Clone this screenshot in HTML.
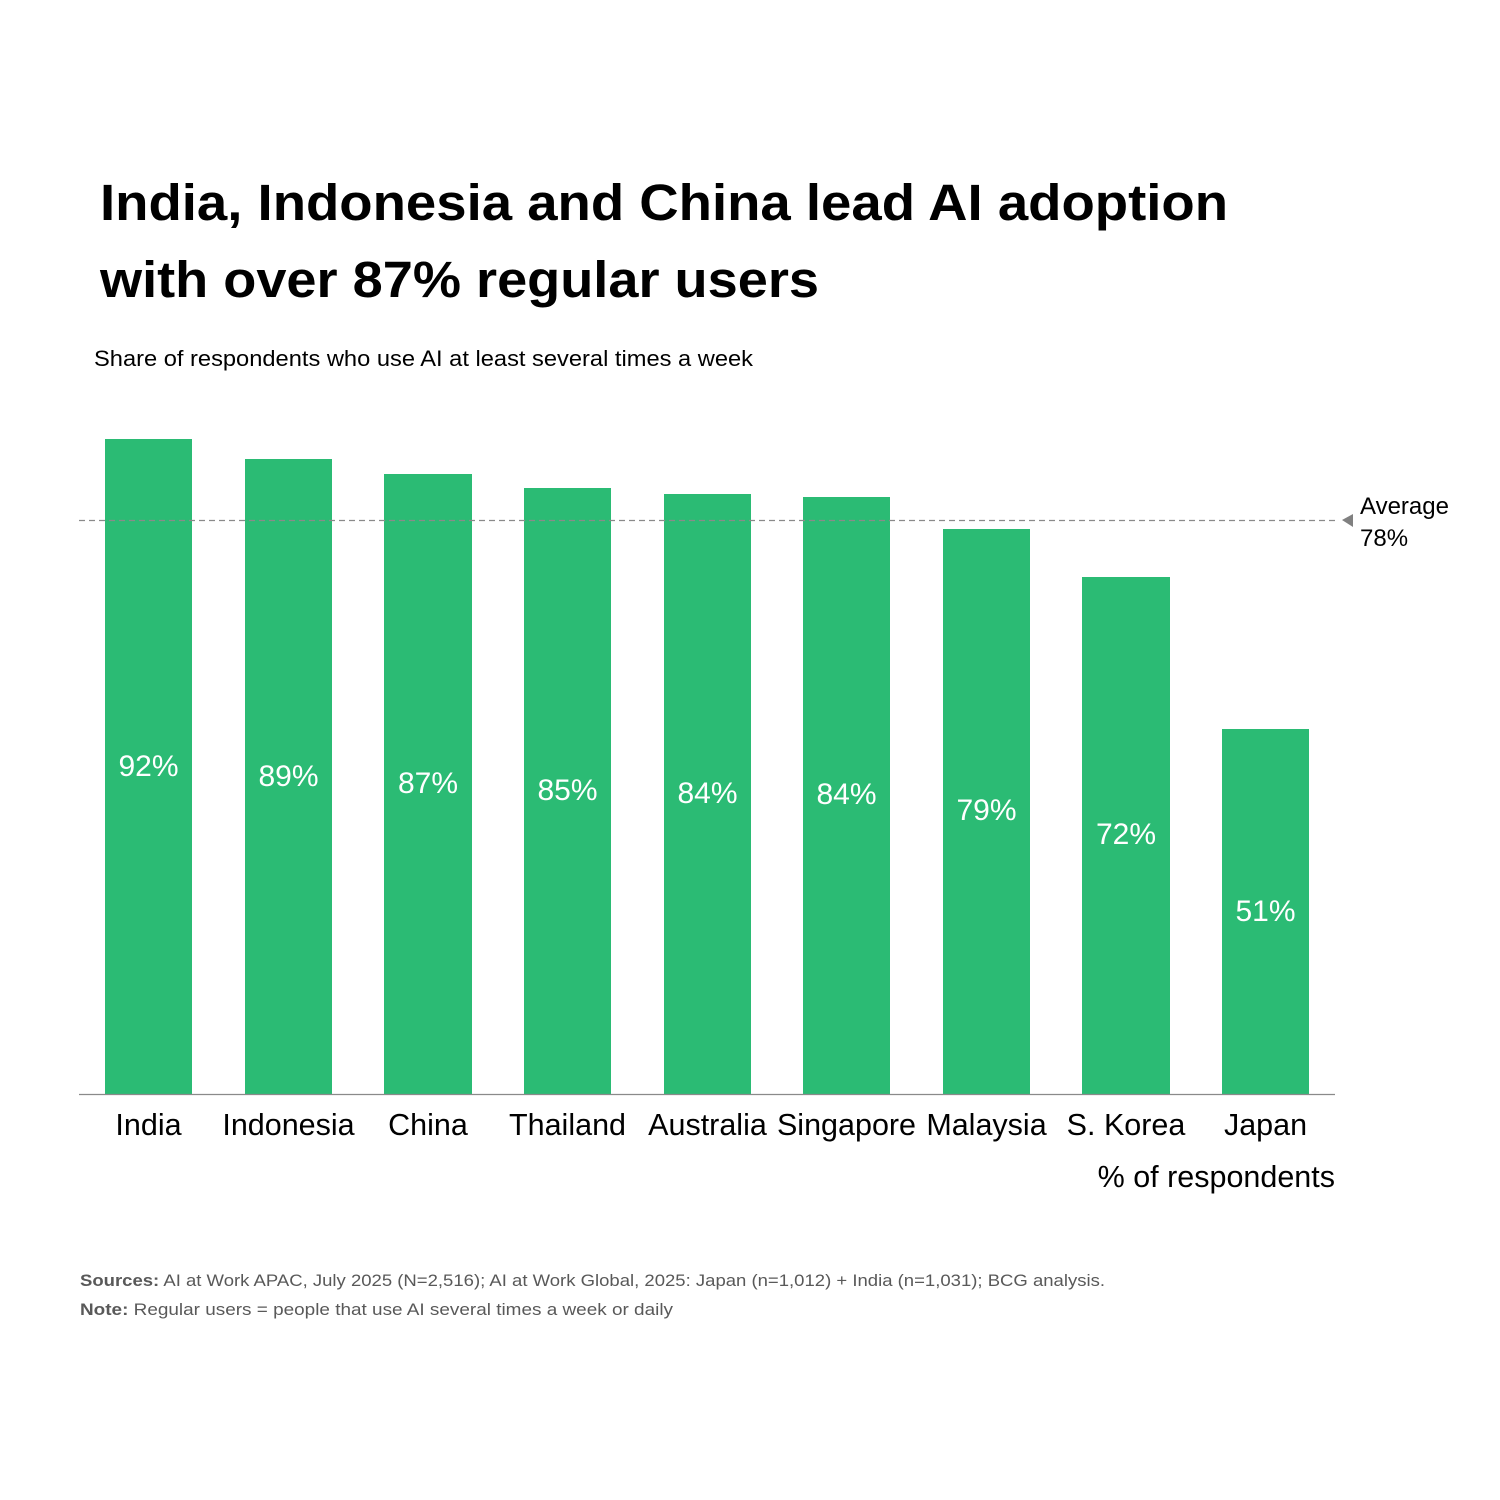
<!DOCTYPE html>
<html><head><meta charset="utf-8"><style>
html,body{margin:0;padding:0;background:#fff;}
svg{display:block;}
text{font-family:"Liberation Sans",sans-serif;}
</style></head><body>
<svg width="1500" height="1500" viewBox="0 0 1500 1500" xmlns="http://www.w3.org/2000/svg">
<rect width="1500" height="1500" fill="#fff"/>
<text x="100" y="220" font-size="51" font-weight="bold" fill="#000" textLength="1128" lengthAdjust="spacingAndGlyphs">India, Indonesia and China lead AI adoption</text>
<text x="100" y="297" font-size="51" font-weight="bold" fill="#000" textLength="719" lengthAdjust="spacingAndGlyphs">with over 87% regular users</text>
<text x="94" y="366" font-size="22" fill="#000" textLength="659" lengthAdjust="spacingAndGlyphs">Share of respondents who use AI at least several times a week</text>
<g fill="#2bbb74">
<rect x="105" y="439" width="87" height="655"/>
<rect x="245" y="459" width="87" height="635"/>
<rect x="384" y="474" width="88" height="620"/>
<rect x="524" y="488" width="87" height="606"/>
<rect x="664" y="494" width="87" height="600"/>
<rect x="803" y="497" width="87" height="597"/>
<rect x="943" y="529" width="87" height="565"/>
<rect x="1082" y="577" width="88" height="517"/>
<rect x="1222" y="729" width="87" height="365"/>
</g>
<line x1="79" y1="520.5" x2="1335" y2="520.5" stroke="#8a8a8a" stroke-width="1.2" stroke-dasharray="6,4"/>
<polygon points="1342,520 1353,514 1353,527" fill="#808080"/>
<text x="1360" y="514" font-size="24" fill="#000">Average</text>
<text x="1360" y="546" font-size="24" fill="#000">78%</text>
<line x1="79" y1="1094.5" x2="1335" y2="1094.5" stroke="#8a8a8a" stroke-width="1.2"/>
<g font-size="30" fill="#fff" text-anchor="middle">
<text x="148.5" y="776">92%</text>
<text x="288.5" y="786">89%</text>
<text x="428" y="793">87%</text>
<text x="567.5" y="800">85%</text>
<text x="707.5" y="803">84%</text>
<text x="846.5" y="804">84%</text>
<text x="986.5" y="820">79%</text>
<text x="1126" y="844">72%</text>
<text x="1265.5" y="921">51%</text>
</g>
<g font-size="30.5" fill="#000" text-anchor="middle">
<text x="148.5" y="1135">India</text>
<text x="288.5" y="1135">Indonesia</text>
<text x="428" y="1135">China</text>
<text x="567.5" y="1135">Thailand</text>
<text x="707.5" y="1135">Australia</text>
<text x="846.5" y="1135">Singapore</text>
<text x="986.5" y="1135">Malaysia</text>
<text x="1126" y="1135">S. Korea</text>
<text x="1265.5" y="1135">Japan</text>
</g>
<text x="1335" y="1187" font-size="30.5" fill="#000" text-anchor="end">% of respondents</text>
<text x="80" y="1286" font-size="17" fill="#595959" textLength="1025" lengthAdjust="spacingAndGlyphs"><tspan font-weight="bold">Sources:</tspan> AI at Work APAC, July 2025 (N=2,516); AI at Work Global, 2025: Japan (n=1,012) + India (n=1,031); BCG analysis.</text>
<text x="80" y="1315" font-size="17" fill="#595959" textLength="593" lengthAdjust="spacingAndGlyphs"><tspan font-weight="bold">Note:</tspan> Regular users = people that use AI several times a week or daily</text>
</svg>
</body></html>
